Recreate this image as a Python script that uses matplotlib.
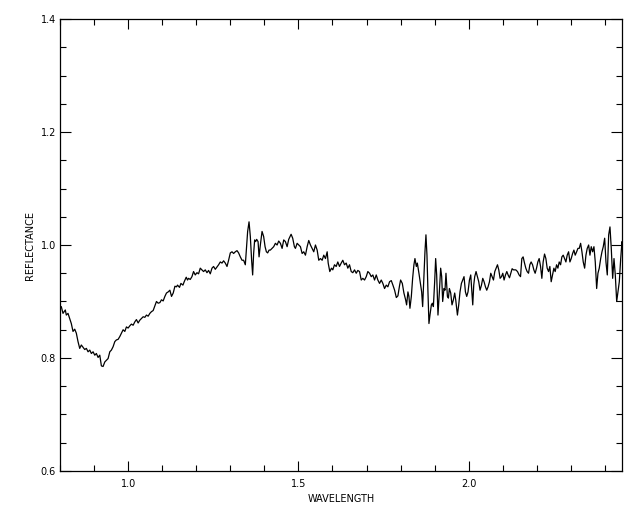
import numpy as np
import matplotlib
matplotlib.use("Agg")
import matplotlib.pyplot as plt
from matplotlib.ticker import MultipleLocator, FormatStrFormatter

# Spectrum, in five pieces (wavelength, reflectance)
wl_a = [0.8000, 0.8038, 0.8088, 0.8156, 0.8185, 0.8235, 0.8285, 0.8332, 0.8382, 0.8432, 0.8479,
        0.8529, 0.8579, 0.8626, 0.8676, 0.8726, 0.8774, 0.8824, 0.8874, 0.8921, 0.8971,
        0.9021, 0.9068, 0.9118, 0.9168, 0.9215, 0.9265, 0.9315, 0.9362, 0.9412, 0.9462,
        0.9509, 0.9559, 0.9609, 0.9656, 0.9706, 0.9756, 0.9803, 0.9853, 0.9903, 0.9950,
        1.0000, 1.0050, 1.0097, 1.0147, 1.0197, 1.0244, 1.0294, 1.0344, 1.0391, 1.0441,
        1.0491, 1.0538, 1.0588, 1.0638, 1.0685, 1.0735, 1.0785, 1.0832, 1.0882, 1.0932,
        1.0979, 1.1029, 1.1079, 1.1126, 1.1176, 1.1226, 1.1274, 1.1324, 1.1374, 1.1421]
refl_a = [0.888, 0.891, 0.879, 0.885, 0.876, 0.879, 0.870, 0.861, 0.847, 0.851, 0.844,
          0.829, 0.817, 0.823, 0.819, 0.815, 0.817, 0.811, 0.814, 0.808, 0.811,
          0.805, 0.808, 0.801, 0.805, 0.786, 0.785, 0.793, 0.796, 0.799, 0.811,
          0.814, 0.820, 0.829, 0.832, 0.833, 0.838, 0.844, 0.850, 0.847, 0.855,
          0.853, 0.857, 0.860, 0.858, 0.864, 0.868, 0.862, 0.867, 0.870, 0.873,
          0.872, 0.876, 0.874, 0.879, 0.882, 0.884, 0.892, 0.900, 0.897, 0.898,
          0.903, 0.901, 0.909, 0.915, 0.917, 0.920, 0.909, 0.915, 0.927, 0.926]

wl_b = [1.1450, 1.1509, 1.1550, 1.1609, 1.1647, 1.1706, 1.1744, 1.1774, 1.1824, 1.1874,
        1.1921, 1.1971, 1.2021, 1.2068, 1.2118, 1.2168, 1.2215, 1.2265, 1.2315, 1.2362,
        1.2412, 1.2462, 1.2509, 1.2559, 1.2609, 1.2656, 1.2706, 1.2756, 1.2803, 1.2853,
        1.2903, 1.2950, 1.3000, 1.3050, 1.3097, 1.3147, 1.3197, 1.3244, 1.3294, 1.3344,
        1.3391, 1.3441, 1.3471, 1.3509, 1.3550, 1.3588, 1.3626, 1.3656, 1.3685, 1.3715,
        1.3744, 1.3774, 1.3815, 1.3844, 1.3882, 1.3932, 1.3979, 1.4021, 1.4059, 1.4097,
        1.4138, 1.4176, 1.4226, 1.4274, 1.4324, 1.4374, 1.4421, 1.4471, 1.4521, 1.4568,
        1.4618, 1.4668, 1.4715]
refl_b = [0.929, 0.925, 0.932, 0.929, 0.935, 0.943, 0.938, 0.941, 0.939, 0.944,
          0.953, 0.947, 0.951, 0.949, 0.959, 0.956, 0.953, 0.956, 0.951, 0.955,
          0.949, 0.959, 0.962, 0.957, 0.961, 0.965, 0.970, 0.968, 0.972, 0.968,
          0.962, 0.973, 0.986, 0.988, 0.985, 0.988, 0.990, 0.986, 0.979, 0.973,
          0.973, 0.965, 0.991, 1.024, 1.041, 1.015, 0.973, 0.947, 0.985, 1.009,
          1.006, 1.010, 1.006, 0.979, 1.000, 1.024, 1.015, 0.997, 0.988, 0.986,
          0.991, 0.991, 0.994, 0.997, 1.003, 1.000, 1.007, 1.003, 0.994, 1.009,
          1.006, 0.997, 1.010]

wl_c = [1.4785, 1.4832, 1.4882, 1.4912, 1.4962, 1.5009, 1.5059, 1.5109, 1.5156, 1.5206,
        1.5256, 1.5303, 1.5353, 1.5403, 1.5450, 1.5500, 1.5550, 1.5597, 1.5647, 1.5697,
        1.5744, 1.5794, 1.5844, 1.5874, 1.5921, 1.5971, 1.6009, 1.6059, 1.6109, 1.6156,
        1.6206, 1.6256, 1.6303, 1.6353, 1.6403, 1.6450, 1.6500, 1.6550, 1.6597, 1.6647,
        1.6697, 1.6744, 1.6794, 1.6844, 1.6891, 1.6941, 1.6991, 1.7038, 1.7088, 1.7138,
        1.7185, 1.7235, 1.7285, 1.7332, 1.7382, 1.7432, 1.7479, 1.7529, 1.7579, 1.7626,
        1.7676, 1.7726, 1.7774, 1.7824, 1.7874, 1.7921, 1.7971]
refl_c = [1.019, 1.012, 0.997, 0.994, 1.003, 1.000, 0.997, 0.985, 0.988, 0.982,
          0.997, 1.008, 1.000, 0.994, 0.988, 1.000, 0.991, 0.973, 0.976, 0.973,
          0.982, 0.976, 0.988, 0.968, 0.953, 0.959, 0.956, 0.965, 0.962, 0.970,
          0.962, 0.968, 0.973, 0.965, 0.968, 0.959, 0.965, 0.953, 0.951, 0.956,
          0.950, 0.955, 0.953, 0.938, 0.941, 0.938, 0.944, 0.953, 0.950, 0.944,
          0.947, 0.938, 0.947, 0.938, 0.932, 0.938, 0.932, 0.923, 0.929, 0.926,
          0.935, 0.937, 0.929, 0.920, 0.907, 0.910, 0.929]

wl_d = [1.8000, 1.8050, 1.8097, 1.8147, 1.8176, 1.8215, 1.8244, 1.8274, 1.8315, 1.8353,
        1.8391, 1.8421, 1.8462, 1.8491, 1.8538, 1.8588, 1.8618, 1.8647, 1.8685, 1.8715,
        1.8744, 1.8774, 1.8803, 1.8832, 1.8862, 1.8903, 1.8932, 1.8962, 1.9000, 1.9029,
        1.9059, 1.9097, 1.9138, 1.9176, 1.9206, 1.9235, 1.9274, 1.9303, 1.9332, 1.9374,
        1.9403, 1.9432, 1.9471, 1.9509, 1.9550, 1.9588, 1.9618, 1.9668, 1.9706, 1.9744,
        1.9785, 1.9824, 1.9862, 1.9903, 1.9941, 1.9979, 2.0021, 2.0059, 2.0088, 2.0118,
        2.0147, 2.0176, 2.0215, 2.0256, 2.0294, 2.0332, 2.0374, 2.0412, 2.0450, 2.0491,
        2.0529, 2.0568, 2.0609, 2.0647, 2.0685, 2.0726, 2.0765, 2.0803, 2.0844, 2.0882,
        2.0921, 2.0962, 2.1000, 2.1038, 2.1079, 2.1118, 2.1156, 2.1197, 2.1235, 2.1274,
        2.1315, 2.1353]
refl_d = [0.938, 0.932, 0.915, 0.903, 0.894, 0.917, 0.909, 0.888, 0.909, 0.941,
          0.965, 0.976, 0.962, 0.968, 0.950, 0.929, 0.917, 0.891, 0.947, 0.988,
          1.018, 0.982, 0.917, 0.861, 0.876, 0.894, 0.897, 0.891, 0.935, 0.976,
          0.947, 0.876, 0.917, 0.959, 0.944, 0.900, 0.923, 0.920, 0.950, 0.909,
          0.906, 0.923, 0.915, 0.894, 0.903, 0.915, 0.903, 0.876, 0.894, 0.917,
          0.932, 0.938, 0.944, 0.917, 0.909, 0.917, 0.938, 0.947, 0.920, 0.894,
          0.929, 0.944, 0.953, 0.944, 0.935, 0.920, 0.929, 0.941, 0.935, 0.926,
          0.920, 0.926, 0.935, 0.950, 0.944, 0.938, 0.953, 0.959, 0.965, 0.956,
          0.941, 0.944, 0.950, 0.938, 0.947, 0.953, 0.947, 0.942, 0.950, 0.958,
          0.956, 0.956]

wl_e = [2.1382, 2.1432, 2.1479, 2.1521, 2.1559, 2.1597, 2.1638, 2.1676, 2.1715, 2.1756,
        2.1794, 2.1832, 2.1874, 2.1912, 2.1950, 2.1991, 2.2029, 2.2068, 2.2109, 2.2147,
        2.2185, 2.2226, 2.2265, 2.2303, 2.2344, 2.2382, 2.2421, 2.2462, 2.2500, 2.2538,
        2.2579, 2.2618, 2.2656, 2.2697, 2.2735, 2.2774, 2.2815, 2.2853, 2.2891, 2.2932,
        2.2971, 2.3009, 2.3050, 2.3088, 2.3126, 2.3168, 2.3206, 2.3244, 2.3285, 2.3324,
        2.3362, 2.3403, 2.3441, 2.3479, 2.3521, 2.3559, 2.3597, 2.3638, 2.3676, 2.3715,
        2.3756, 2.3794, 2.3832, 2.3874, 2.3912, 2.3950, 2.3991, 2.4029, 2.4068, 2.4109,
        2.4147, 2.4185, 2.4226, 2.4265, 2.4303, 2.4344, 2.4382, 2.4421, 2.4462, 2.4500,
        2.4521]
refl_e = [0.956, 0.953, 0.947, 0.944, 0.976, 0.979, 0.968, 0.959, 0.953, 0.950,
          0.965, 0.970, 0.965, 0.956, 0.950, 0.959, 0.970, 0.976, 0.962, 0.941,
          0.970, 0.984, 0.976, 0.959, 0.953, 0.962, 0.935, 0.947, 0.959, 0.953,
          0.965, 0.959, 0.970, 0.965, 0.979, 0.982, 0.976, 0.970, 0.982, 0.988,
          0.970, 0.976, 0.985, 0.991, 0.982, 0.988, 0.994, 0.994, 1.003, 0.988,
          0.970, 0.959, 0.982, 0.994, 1.000, 0.982, 0.997, 0.988, 0.997, 0.970,
          0.923, 0.950, 0.959, 0.976, 0.988, 0.997, 1.012, 0.970, 0.947, 1.018,
          1.032, 0.994, 0.941, 0.976, 0.947, 0.900, 0.917, 0.935, 0.976, 1.006,
          0.994]

x_label = "WAVELENGTH"
y_label = "REFLECTANCE"

wl = np.concatenate([wl_a, wl_b, wl_c, wl_d, wl_e])
refl = np.concatenate([refl_a, refl_b, refl_c, refl_d, refl_e])

fig = plt.figure(figsize=(6.4, 5.12), dpi=100)
ax = fig.add_axes([60 / 640, 41 / 512, 562 / 640, 452 / 512])
ax.plot(wl, refl, color="black", lw=0.9)

ax.set_xlim(0.8, 2.45)
ax.set_ylim(0.6, 1.4)
ax.xaxis.set_major_locator(MultipleLocator(0.5))
ax.xaxis.set_minor_locator(MultipleLocator(0.1))
ax.yaxis.set_major_locator(MultipleLocator(0.2))
ax.yaxis.set_minor_locator(MultipleLocator(0.05))
ax.xaxis.set_major_formatter(FormatStrFormatter("%.1f"))
ax.yaxis.set_major_formatter(FormatStrFormatter("%.1f"))

ax.tick_params(which="both", direction="in", top=True, right=True,
               width=0.8, labelsize=7, colors="black")
ax.tick_params(axis="x", which="major", length=7, pad=6)
ax.tick_params(axis="x", which="minor", length=4)
ax.tick_params(axis="y", which="major", length=8, pad=3)
ax.tick_params(axis="y", which="minor", length=4.5)
for s in ax.spines.values():
    s.set_linewidth(0.9)

ax.set_xlabel(x_label, fontsize=7, labelpad=3)
ax.set_ylabel(y_label, fontsize=7, labelpad=4)

fig.savefig("out.png", dpi=100, facecolor="white")
